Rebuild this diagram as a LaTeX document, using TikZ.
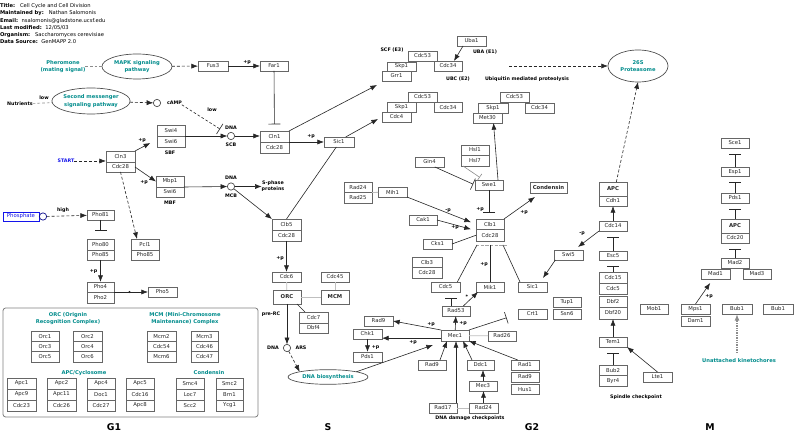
\documentclass[tikz,border=0pt]{standalone}
\usepackage{fontspec}
\setmainfont{DejaVu Sans}
\usetikzlibrary{arrows.meta,shapes.geometric}
\definecolor{tealc}{RGB}{0,140,140}
\definecolor{bluec}{RGB}{20,20,235}
\newcommand\mybox[6]{\node[bx,minimum width={(#4-(#2))*0.75pt},minimum height={(#5-(#3))*0.75pt}] (#1) at ({(#2+#4)/2},{(#3+#5)/2}) {#6};}
\begin{document}
\begin{tikzpicture}[x=0.75pt,y=-0.75pt,
  every node/.style={inner sep=0pt, outer sep=0pt},
  bx/.style={draw=black!60, line width=0.5pt, fill=white, text=black!85, font=\fontsize{4}{4.5}\selectfont},
  lbl/.style={font=\bfseries\fontsize{3.6}{4.4}\selectfont, text=black, align=center},
  tl/.style={font=\bfseries\fontsize{3.9}{5.4}\selectfont, text=tealc, align=center},
  ell/.style={ellipse, draw=black!70, line width=0.5pt},
  cir/.style={circle, draw=black!70, line width=0.5pt, minimum size=5.5pt},
  arr/.style={-{Latex[length=5pt,width=3.8pt]}, line width=0.45pt, draw=black!85},
  darr/.style={arr, dash pattern=on 2.2pt off 1.5pt},
  tee/.style={-{Bar[width=9pt]}, line width=0.45pt, draw=black!85, shorten >=4.5pt},
  ln/.style={line width=0.45pt, draw=black!85},
  gln/.style={line width=0.6pt, draw=black!25},
  hd/.style={font=\fontsize{3.9}{5}\selectfont, anchor=west},
  phase/.style={font=\bfseries\fontsize{7}{8}\selectfont}
]
\path[use as bounding box] (0,0) rectangle (800,441);
\fill[white] (0,0) rectangle (800,441);

% ---------------- header
\node[hd] (t1) at (0,5.7) {\textbf{Title:}\hspace{2pt} Cell Cycle and Cell Division};
\node[hd] (t2) at (0,13.2) {\textbf{Maintained by:}\hspace{2pt} Nathan Salomonis};
\node[hd] (t3) at (0,20.6) {\textbf{Email:}\hspace{1pt} nsalomonis@gladstone.ucsf.edu};
\node[hd] (t4) at (0,27.8) {\textbf{Last modified:}\hspace{1pt} 12/05/03};
\node[hd] (t5) at (0,35) {\textbf{Organism:}\hspace{2pt} Saccharomyces cerevisiae};
\node[hd] (t6) at (0,42) {\textbf{Data Source:}\hspace{1pt} GenMAPP 2.0};

% ---------------- ellipses and signals
\node[tl] (pher) at (63,66.5) {Pheromone\\(mating signal)};
\node[ell, tl, minimum width=52.5pt, minimum height=18.75pt] (mapk) at (137,66.5) {MAPK signaling\\pathway};
\node[lbl] (nutr) at (20,104) {Nutrients};
\node[lbl] (low1) at (44,98) {low};
\node[ell, tl, minimum width=55.5pt, minimum height=19.5pt] (secm) at (91,101) {Second messenger\\signaling pathway};
\node[cir] (camp) at (157,103) {};
\node[lbl, anchor=west] (camplbl) at (167,103) {cAMP};
\node[ell, tl, minimum width=45pt, minimum height=24pt] (prot) at (638,66) {26S\\Proteasome};
\node[ell, tl, minimum width=60pt, minimum height=11pt] (dnab) at (328,377) {DNA biosynthesis};

% ---------------- G1 boxes
\mybox{fus3}{198}{61}{228}{71}{Fus3}
\mybox{far1}{260}{61}{288}{71}{Far1}
\mybox{swi4}{157}{125}{185}{136}{Swi4}
\mybox{swi6a}{157}{136}{185}{147}{Swi6}
\mybox{cln1}{260}{131}{289}{142}{Cln1}
\mybox{cdcA}{260}{142}{289}{153}{Cdc28}
\mybox{sicA}{324}{137}{354}{147}{Sic1}
\mybox{cln3}{106}{151}{135}{162}{Cln3}
\mybox{cdcB}{106}{162}{135}{172}{Cdc28}
\mybox{mbp1}{156}{176}{184}{187}{Mbp1}
\mybox{swi6b}{156}{187}{184}{197}{Swi6}
\mybox{pho81}{87}{210}{114}{220}{Pho81}
\mybox{pho80}{87}{239}{114}{250}{Pho80}
\mybox{pho85a}{87}{250}{114}{260}{Pho85}
\mybox{pcl1}{131}{239}{159}{250}{Pcl1}
\mybox{pho85b}{131}{250}{159}{260}{Pho85}
\mybox{pho4}{87}{282}{114}{292}{Pho4}
\mybox{pho2}{87}{292}{114}{303}{Pho2}
\mybox{pho5}{148}{287}{177}{297}{Pho5}
\node[draw=bluec, line width=0.5pt, text=bluec, font=\fontsize{4}{4.5}\selectfont, minimum width=27pt, minimum height=6.8pt] (phos) at (21,216.5) {Phosphate};
\node[cir, draw=bluec!60!black] (phc) at (43,216.5) {};
\node[lbl, text=bluec] (start) at (66,161) {START};
\node[lbl] (high) at (63,210) {high};
\node[lbl] (sbf) at (170,152.5) {SBF};
\node[lbl] (mbf) at (170,202.5) {MBF};
\node[cir] (scb) at (231,136) {};
\node[lbl] (dna1) at (231,127.5) {DNA};
\node[lbl] (scbl) at (231,145) {SCB};
\node[cir] (mcb) at (231,186.5) {};
\node[lbl] (dna2) at (231,177.5) {DNA};
\node[lbl] (mcbl) at (231,196) {MCB};
\node[lbl] (sphase) at (273,186.5) {S-phase\\proteins};
\node[lbl] (low2) at (212,109.5) {low};

% ---------------- SCF complexes
\node[lbl] (scf) at (392,50) {SCF (E3)};
\mybox{skp1a}{387}{62}{416}{71}{Skp1}
\mybox{grr1}{382}{71}{411}{81}{Grr1}
\mybox{cdc53a}{408}{51}{437}{61}{Cdc53}
\mybox{cdc34a}{434}{61}{462}{71}{Cdc34}
\mybox{uba1}{457}{36}{486}{46}{Uba1}
\node[lbl] (uba) at (485,52) {UBA (E1)};
\node[lbl] (ubc) at (458,79.5) {UBC (E2)};
\node[lbl] (ubq) at (527,79.5) {Ubiquitin mediated proteolysis};
\mybox{cdc53b}{408}{92}{437}{102}{Cdc53}
\mybox{skp1b}{387}{102.5}{416}{112}{Skp1}
\mybox{cdc4}{382}{112}{411}{122}{Cdc4}
\mybox{cdc34b}{434}{102.5}{462}{112.5}{Cdc34}
\mybox{cdc53c}{500}{92}{529}{102}{Cdc53}
\mybox{skp1c}{478}{103}{508}{113}{Skp1}
\mybox{met30}{473}{113}{502}{123}{Met30}
\mybox{cdc34c}{525}{103}{554}{113}{Cdc34}

% ---------------- S boxes
\mybox{clb5}{272}{219}{301}{230}{Clb5}
\mybox{cdcC}{272}{230}{301}{241}{Cdc28}
\mybox{cdc6}{272}{272}{301}{282}{Cdc6}
\mybox{cdc45}{321}{272}{349}{282}{Cdc45}
\mybox{orc}{273}{290}{301}{304}{\textbf{ORC}}
\mybox{mcm}{321}{290}{349}{304}{\textbf{MCM}}
\mybox{cdc7}{299}{312}{328}{323}{Cdc7}
\mybox{dbf4}{299}{323}{328}{333}{Dbf4}
\node[lbl] (prerc) at (271,314) {pre-RC};
\node[cir] (ars) at (287,348) {};
\node[lbl] (dna3) at (273,348) {DNA};
\node[lbl] (arsl) at (301,348) {ARS};
\mybox{rad24a}{344}{182}{372}{192.5}{Rad24}
\mybox{rad25}{344}{192.5}{372}{203}{Rad25}
\mybox{mih1}{378}{187}{407}{197}{Mih1}
\mybox{rad9a}{364}{316}{393}{326}{Rad9}
\mybox{chk1}{353}{329}{382}{339}{Chk1}
\mybox{pds1}{353}{352}{382}{362}{Pds1}

% ---------------- G2 boxes
\mybox{hsl1}{461}{145}{489}{155}{Hsl1}
\mybox{hsl7}{461}{155}{489}{166}{Hsl7}
\mybox{gin4}{415}{157}{444}{167}{Gin4}
\mybox{swe1}{475}{180}{503}{190}{Swe1}
\mybox{cond}{530}{182}{567}{193}{\textbf{Condensin}}
\mybox{cak1}{409}{215}{437}{225}{Cak1}
\mybox{clb1}{476}{219}{504}{229.5}{Clb1}
\mybox{cdcD}{476}{229.5}{504}{241}{Cdc28}
\mybox{cks1}{423}{239}{452}{249}{Cks1}
\mybox{clb3}{412}{257}{442}{267.5}{Clb3}
\mybox{cdcE}{412}{267.5}{442}{278}{Cdc28}
\mybox{cdc5}{431}{282}{460}{292}{Cdc5}
\mybox{mik1}{476}{282}{504}{292}{Mik1}
\mybox{sicB}{518}{282}{547}{292}{Sic1}
\mybox{swi5}{554}{250}{583}{260}{Swi5}
\mybox{rad53}{442}{306}{470}{316}{Rad53}
\mybox{crt1}{518}{309}{547}{319}{Crt1}
\mybox{tup1}{553}{297}{581}{307}{Tup1}
\mybox{ssn6}{553}{309}{581}{319}{Ssn6}
\mybox{mec1}{441}{330}{469}{341}{Mec1}
\mybox{rad26}{488}{331}{516}{341}{Rad26}
\mybox{rad9b}{418}{360}{446}{370}{Rad9}
\mybox{ddc1}{467}{360}{494}{370}{Ddc1}
\mybox{rad1}{511}{360}{539}{370}{Rad1}
\mybox{rad9c}{511}{372}{539}{382}{Rad9}
\mybox{hus1}{511}{384.5}{539}{394}{Hus1}
\mybox{mec3}{469}{381}{497}{391}{Mec3}
\mybox{rad17}{429}{403}{457}{413}{Rad17}
\mybox{rad24b}{469}{403}{498}{413}{Rad24}
\node[lbl] (ddcp) at (470,418) {DNA damage checkpoints};

% ---------------- M boxes
\mybox{apc}{599}{182}{627}{196}{\textbf{APC}}
\mybox{cdh1}{599}{196}{627}{206}{Cdh1}
\mybox{cdc14}{599}{221}{627}{231}{Cdc14}
\mybox{esc5}{599}{251}{627}{260}{Esc5}
\mybox{cdc15}{599}{272}{627}{283}{Cdc15}
\mybox{cdc5m}{599}{283}{627}{294}{Cdc5}
\mybox{dbf2}{599}{296}{627}{307}{Dbf2}
\mybox{dbf20}{599}{307}{627}{319}{Dbf20}
\mybox{tem1}{599}{337}{627}{347}{Tem1}
\mybox{bub2}{599}{365}{627}{375.5}{Bub2}
\mybox{byr4}{599}{375.5}{627}{386}{Byr4}
\mybox{lte1}{643}{372}{672}{382}{Lte1}
\node[lbl] (spc) at (636,397) {Spindle checkpoint};
\mybox{mob1}{640}{304}{668}{314}{Mob1}
\mybox{mps1}{681}{304}{710}{314}{Mps1}
\mybox{dam1}{681}{316}{710}{326}{Dam1}
\mybox{bub1a}{722}{304}{752}{314}{Bub1}
\mybox{bub1b}{763}{304}{793}{314}{Bub1}
\node[tl] (kin) at (739,361) {Unattached kinetochores};
\mybox{sce1}{721}{138}{749}{148}{Sce1}
\mybox{esp1}{721}{167}{749}{176.5}{Esp1}
\mybox{pds1m}{721}{193}{749}{203}{Pds1}
\mybox{apcm}{721}{219}{749}{233}{\textbf{APC}}
\mybox{cdc20}{721}{233}{749}{243}{Cdc20}
\mybox{mad2}{721}{258}{749}{268}{Mad2}
\mybox{mad1}{701}{269}{730}{279}{Mad1}
\mybox{mad3}{743}{269}{771}{279}{Mad3}

% ---------------- legend box
\draw[black!50, rounded corners=2pt, line width=0.6pt] (3,308) rectangle (258,417);
\node[tl] (orct) at (68,318.5) {ORC (Orignin\\Recognition Complex)};
\node[tl] (mcmt) at (185,318.5) {MCM (Mini-Chromosome\\Maintenance) Complex};
\node[tl] (apct) at (84,373) {APC/Cyclosome};
\node[tl] (condt) at (209,373) {Condensin};
\mybox{orc1}{31}{331}{59}{341.3}{Orc1}
\mybox{orc3}{31}{341.3}{59}{351.7}{Orc3}
\mybox{orc5}{31}{351.7}{59}{362}{Orc5}
\mybox{orc2}{73}{331}{102}{341.3}{Orc2}
\mybox{orc4}{73}{341.3}{102}{351.7}{Orc4}
\mybox{orc6}{73}{351.7}{102}{362}{Orc6}
\mybox{mcm2}{147}{331}{176}{341.3}{Mcm2}
\mybox{cdc54}{147}{341.3}{176}{351.7}{Cdc54}
\mybox{mcm6}{147}{351.7}{176}{362}{Mcm6}
\mybox{mcm3}{191}{331}{218}{341.3}{Mcm3}
\mybox{cdc46}{191}{341.3}{218}{351.7}{Cdc46}
\mybox{cdc47}{191}{351.7}{218}{362}{Cdc47}
\mybox{apc1}{7}{378}{36}{389}{Apc1}
\mybox{apc9}{7}{389}{36}{400}{Apc9}
\mybox{cdc23}{7}{400}{36}{411}{Cdc23}
\mybox{apc2}{47}{378}{76}{389}{Apc2}
\mybox{apc11}{47}{389}{76}{400}{Apc11}
\mybox{cdc26}{47}{400}{76}{411}{Cdc26}
\mybox{apc4}{87}{378}{115}{389}{Apc4}
\mybox{doc1}{87}{389}{115}{400}{Doc1}
\mybox{cdc27}{87}{400}{115}{411}{Cdc27}
\mybox{apc5}{126}{378}{154}{389}{Apc5}
\mybox{cdc16}{126}{389}{154}{400}{Cdc16}
\mybox{apc8}{126}{400}{154}{411}{Apc8}
\mybox{smc4}{176}{378}{204}{389}{Smc4}
\mybox{loc7}{176}{389}{204}{400}{Loc7}
\mybox{scc2}{176}{400}{204}{411}{Scc2}
\mybox{smc2}{216}{378}{243}{389}{Smc2}
\mybox{brn1}{216}{389}{243}{400}{Brn1}
\mybox{ycg1}{216}{400}{243}{411}{Ycg1}

% ---------------- phase labels
\node[phase] (pg1) at (114,427) {G1};
\node[phase] (ps) at (328,427) {S};
\node[phase] (pg2) at (532,427) {G2};
\node[phase] (pm) at (710,427) {M};

% ---------------- connectors G1
\draw[ln, draw=black!45, dash pattern=on 2pt off 1.5pt] (pher) -- (mapk);
\draw[darr] (mapk) -- (fus3);
\draw[arr] (fus3) -- (far1);
\node[lbl] at (247,62) {+p};
\draw[tee, shorten >=5pt] (far1) -- (cln1);
\draw[ln, draw=black!45, dash pattern=on 2pt off 1.5pt] (nutr) -- (secm);
\draw[darr] (secm) -- (camp);
\draw[tee, dash pattern=on 2pt off 1.5pt, shorten >=7pt] (camplbl.south east) -- (scb);
\draw[arr] (swi4.south east) -- (scb);
\draw[arr] (scb) -- (scb -| cln1.west);
\draw[darr] (start.east) -- (start.east -| cln3.west);
\draw[arr] (cln3.north east) -- ([xshift=-5pt,yshift=3pt]swi6a.south west);
\node[lbl] at (142,140.5) {+p};
\draw[arr] (cdcB.east) -- (mbp1.west);
\node[lbl] at (144,182) {+p};
\draw[arr] (mbp1.south east) -- (mcb);
\draw[arr] (mcb) -- (sphase.west);
\draw[arr] (mcb) -- (clb5.north west);
\draw[arr] (cln1.south east) -- (sicA.west);
\node[lbl] at (311,136.5) {+p};
\draw[arr] (cln1.north east) -- ([xshift=-3.75pt,yshift=-3pt]grr1.south west);
\draw[arr] ([xshift=5pt]sicA.north) -- ([xshift=-3pt,yshift=2.25pt]cdc4.south west);
\draw[ln] ([xshift=-2pt]sicA.south) -- (clb5.north);
\draw[darr] (cdcB.south) -- ([xshift=-6pt]pcl1.north);
\draw[darr] (phc) -- (pho81);
\draw[tee, shorten >=6pt] (pho81) -- (pho80);
\draw[arr] (pho85a) -- (pho4);
\node[lbl] at (93.5,271) {+p};
\draw[arr] (pho4.south east) -- (pho4.south east -| pho5.west);
\fill[black!85] (129.5,292) circle (0.9pt);
\draw[arr] ([xshift=4.5pt]uba1.south west) -- ([xshift=4.5pt]cdc34a.north);

% ---------------- connectors S
\draw[arr] (cdcC.south) -- (cdc6.north);
\node[lbl] at (280,258) {+p};
\draw[gln] (cdc6) -- (orc);
\draw[gln] (cdc45) -- (mcm);
\draw[gln] (orc) -- (mcm);
\draw[ln] ([xshift=-3pt]orc.south east) -- ([xshift=4.5pt]cdc7.north west);
\draw[arr] (orc) -- (ars);
\draw[darr] (ars) -- (dnab.north west);
\draw[gln] (rad24a.south east) -- (mih1);
\draw[arr] (dnab.north east) -- ([xshift=-6pt,yshift=-3pt]mec1.south west);
\draw[arr] (mec1.north west) -- (rad9a.east);
\node[lbl] at (431,324) {+p};
\draw[arr] ([yshift=-2pt]mec1.west) -- ([yshift=-2pt]mec1.west -| chk1.east);
\node[lbl] at (413,342.5) {+p};
\draw[arr] (chk1) -- (pds1);
\node[lbl] at (375.5,347) {+p};

% ---------------- connectors G2
\draw[arr] (mec1) -- (rad53);
\node[lbl] at (463,323) {+p};
\coordinate (c5bar) at (451,292);
\draw[tee] (rad53.north -| c5bar) -- (c5bar);
\draw[arr] ([xshift=-5pt]rad53.north east) -- ([xshift=1.5pt]mik1.south west);
\node[lbl] at (467,297) {*};
\draw[tee, shorten >=9pt] (mec1.north east) -- (crt1.west);
\draw[gln] (mec1) -- (rad26);
\draw[arr] ([xshift=-4.5pt]rad9b.north east) -- ([xshift=-6pt]mec1.south);
\draw[arr] ([xshift=3.75pt]ddc1.north west) -- ([xshift=6pt]mec1.south);
\draw[arr] ([xshift=5pt]rad1.north west) -- (mec1.south east);
\draw[arr] ([xshift=-0.75pt]rad17.north east) -- ([xshift=-0.75pt]rad17.north east |- mec1.south);
\draw[gln] (rad17) -- (rad24b);
\draw[arr] (rad24b.north) -- (rad24b.north |- mec3.south);
\draw[arr] (mec3.north) -- (mec3.north |- ddc1.south);
\draw[tee] (swe1.south) -- (swe1.south |- clb1.north);
\node[lbl] at (480,209.5) {+p};
\draw[tee, shorten >=1.5pt] ([xshift=4pt]gin4.south) -- (swe1.west);
\draw[tee, draw=black!45, shorten >=3.5pt, -{Bar[width=6pt]}] ([xshift=-9pt]hsl7.south) -- ([xshift=-4pt]swe1.north);
\draw[arr] ([xshift=-3.75pt]swe1.north east) -- ([xshift=4.5pt]met30.south);
\draw[arr] (clb1.north east) -- ([xshift=3.75pt,yshift=-3pt]cond.south west);
\node[lbl] at (524,212) {+p};
\draw[arr] (mih1.south east) -- ([xshift=-3.75pt,yshift=1.5pt]clb1.west);
\node[lbl] at (448,211) {-p};
\draw[arr] (cak1.east) -- ([xshift=-3.75pt,yshift=-3.75pt]clb1.west);
\node[lbl] at (455,227) {+p};
\draw[ln] (cks1.east) -- (cdcD.west);
\coordinate (barL) at (476,245);
\coordinate (barR) at (507,245);
\coordinate (barA) at (477,245);
\coordinate (barB) at (490,245);
\coordinate (barC) at (503,245);
\draw[line width=0.7pt, draw=black!35, dash pattern=on 2.5pt off 1pt] (barL) -- (barR);
\draw[ln] ([xshift=-2pt]cdc5.north east) -- (barA);
\draw[ln] (mik1.north |- barB) -- (mik1.north);
\draw[ln] ([xshift=1.5pt]sicB.north west) -- (barC);
\node[lbl] at (484,264) {+p};
\draw[arr] (cdc14.south west) -- ([xshift=-3.75pt,yshift=2.25pt]swi5.north east);
\node[lbl] at (582,234) {-p};
\draw[arr] ([xshift=1pt]swi5.south west) -- ([xshift=-3pt,yshift=3pt]sicB.north east);

% ---------------- connectors M
\draw[arr] (cdc14) -- (cdh1);
\draw[tee] (esc5) -- (cdc14);
\draw[tee] (cdc15) -- (esc5);
\draw[arr] (tem1) -- (dbf20);
\draw[tee] (bub2) -- (tem1);
\draw[arr] (lte1.north) -- (tem1.south east);
\draw[darr] ([xshift=2.5pt]apc.north) -- (prot.south);
\coordinate (ubs) at (509,66);
\draw[darr] (ubs) -- (prot.west);
\draw[tee] (esp1) -- (sce1);
\draw[tee] (pds1m) -- (esp1);
\draw[tee] (apcm) -- (pds1m);
\draw[tee] (mad2) -- (cdc20);
\draw[arr] (mps1.north) -- ([xshift=-4pt,yshift=-3pt]mad1.south);
\node[lbl] at (709,296) {+p};
\draw[-{Latex[length=5pt,width=3.8pt]}, draw=black!45, line width=1pt, dash pattern=on 1pt off 0.8pt] (bub1a.south |- kin.north) ++(0,-6) -- (bub1a.south);
\end{tikzpicture}
\end{document}
